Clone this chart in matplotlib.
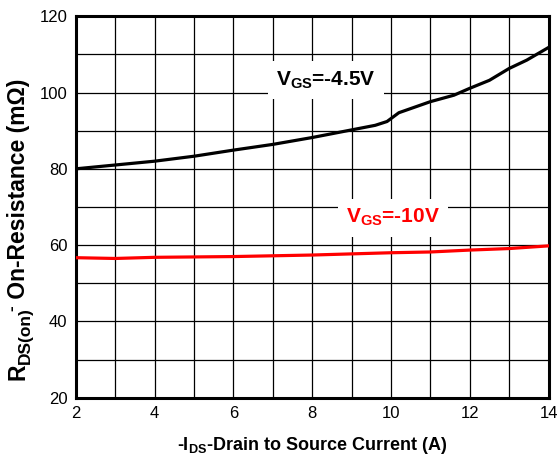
import matplotlib
matplotlib.use("Agg")
import matplotlib.pyplot as plt
from matplotlib.transforms import IdentityTransform
import numpy as np

plt.rcParams['font.family'] = ['Liberation Sans', 'DejaVu Sans']
plt.rcParams['mathtext.fontset'] = 'custom'
plt.rcParams['mathtext.rm'] = 'Liberation Sans:bold'
plt.rcParams['mathtext.bf'] = 'Liberation Sans:bold'
plt.rcParams['mathtext.it'] = 'Liberation Sans:bold'
plt.rcParams['mathtext.default'] = 'rm'

# Drain current (A) and on-resistance (mOhm)
current_45 = [2.0, 3.0, 4.0, 5.0, 6.0, 7.0, 8.0, 9.0, 9.6, 9.9, 10.2, 11.0, 11.6, 12.0, 12.5, 13.0, 13.45, 14.0]
rdson_45 = [80.0, 81.0, 82.0, 83.3, 84.9, 86.4, 88.2, 90.2, 91.4, 92.4, 94.7, 97.6, 99.3, 101.1, 103.2, 106.3, 108.5, 111.8]

current_10 = [2.0, 3.0, 4.0, 6.0, 8.0, 9.0, 10.0, 11.0, 12.0, 13.0, 14.0]
rdson_10 = [56.7, 56.5, 56.8, 57.0, 57.4, 57.7, 58.0, 58.2, 58.7, 59.1, 59.8]

x_ticks = [2, 4, 6, 8, 10, 12, 14]
y_ticks = [20, 40, 60, 80, 100, 120]

fig = plt.figure(figsize=(5.58, 4.63), dpi=100)
ax = fig.add_axes([0.136, 0.141, 0.847, 0.824])

ax.set_xlim(2, 14)
ax.set_ylim(20, 120)
ax.set_xticks(np.arange(2, 14.01, 1), minor=True)
ax.set_yticks(np.arange(20, 120.01, 10), minor=True)
ax.set_xticks(x_ticks)
ax.set_yticks(y_ticks)
ax.set_xticklabels([str(v) for v in x_ticks], fontsize=12)
ax.set_yticklabels([str(v) for v in y_ticks], fontsize=12)
ax.tick_params(which='both', length=0, pad=6)
ax.grid(which='both', color='black', linewidth=0.9)
ax.set_axisbelow(True)
for s in ax.spines.values():
    s.set_linewidth(2.2)

ax.plot(current_45, rdson_45, color='black', linewidth=2.3, zorder=3)
ax.plot(current_10, rdson_10, color='#ff0000', linewidth=2.3, zorder=3)

box = dict(facecolor='white', edgecolor='none', pad=6)
ax.text(8.35, 103.3, r'$\mathbf{V_{GS}}$=-4.5V', fontsize=15, fontweight='bold',
        color='black', ha='center', va='center', bbox=box, zorder=4)
ax.text(10.05, 67.2, r'$\mathbf{V_{GS}}$=-10V', fontsize=15, fontweight='bold',
        color='#ff0000', ha='center', va='center', bbox=box, zorder=4)

ax.set_xlabel(r'-I$_{\mathbf{DS}}$-Drain to Source Current (A)', fontsize=13,
              fontweight='bold', labelpad=10)

# Vertical axis title built from pieces so the subscript keeps a large size
renderer = fig.canvas.get_renderer()
ylabel_parts = [
    ('R', 16.5, 0, 0),
    ('DS(on)', 12.5, 5, -4),
    ('-', 12.5, -9, 0),
    (' On-Resistance (m\u03a9)', 16.5, 0, 0),
]
base_x = 25
pos_y = fig.bbox.height - 380
for txt, size, dx, trim in ylabel_parts:
    t = fig.text(base_x + dx, pos_y, txt, transform=IdentityTransform(),
                 rotation=90, rotation_mode='anchor', ha='left', va='baseline',
                 fontsize=size, fontweight='bold', color='black')
    pos_y += t.get_window_extent(renderer).height + trim

fig.savefig('out.png', dpi=100)
